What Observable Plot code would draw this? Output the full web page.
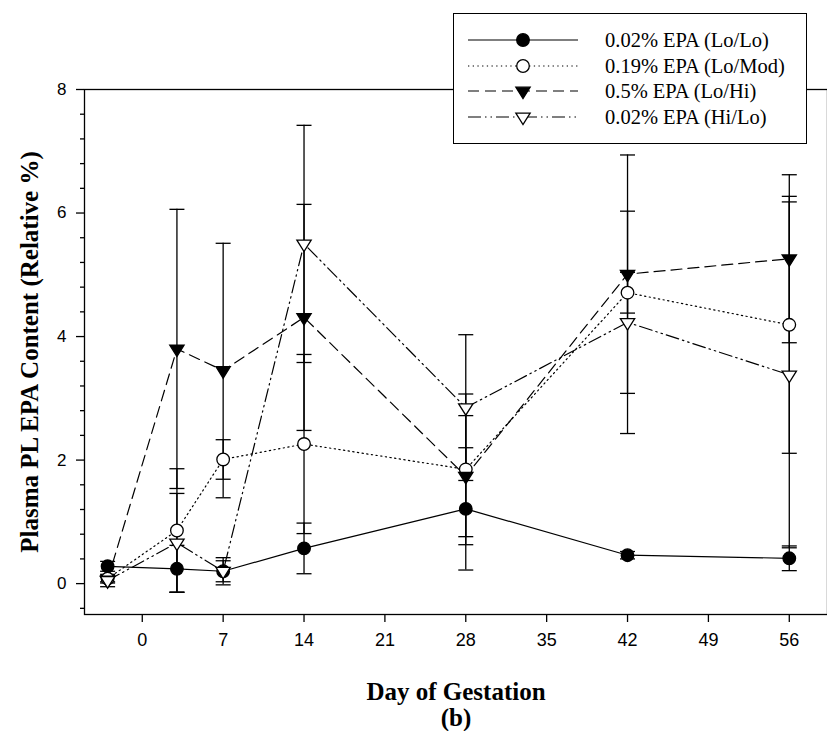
<!DOCTYPE html>
<html><head><meta charset="utf-8">
<script src="https://cdn.jsdelivr.net/npm/d3@7"></script>
<script src="https://cdn.jsdelivr.net/npm/@observablehq/plot@0.6"></script>
<style>
body{margin:0;background:#fff;}
#wrap{position:relative;width:827px;height:731px;overflow:hidden;background:#fff;}
#legend{position:absolute;left:453px;top:13px;width:354px;height:131px;border:1.3px solid #000;background:#fff;box-sizing:border-box;}
#legend .row{position:absolute;left:0;height:26px;width:100%;}
#legend svg{position:absolute;left:0;top:0;}
#legend span{position:absolute;left:151px;top:1px;font-family:"Liberation Serif","Times New Roman",serif;font-size:20.5px;line-height:24px;color:#000;white-space:nowrap;}
</style></head><body><div id="wrap"></div>
<script>
// ---- data ----
const days = [-3, 3, 7, 14, 28, 42, 56];
const seriesNames = ["0.02% EPA (Lo/Lo)", "0.19% EPA (Lo/Mod)", "0.5% EPA (Lo/Hi)", "0.02% EPA (Hi/Lo)"];
const loLo     = [0.28, 0.24, 0.20, 0.57, 1.21, 0.46, 0.41];
const loLoErr  = [0.08, 0.38, 0.17, 0.41, 0.99, 0.06, 0.20];
const loMod    = [0.08, 0.86, 2.01, 2.26, 1.85, 4.71, 4.19];
const loModErr = [0.05, 1.00, 0.32, 1.45, 1.22, 0.33, 2.08];
const loHi     = [0.06, 3.80, 3.45, 4.31, 1.74, 5.01, 5.26];
const loHiErr  = [0.05, 2.26, 2.06, 1.83, 0.98, 1.93, 1.36];
const hiLo     = [0.05, 0.66, 0.20, 5.50, 2.85, 4.23, 3.38];
const hiLoErr  = [0.10, 0.80, 0.22, 1.92, 1.18, 1.80, 2.80];
const xTicks = [0, 7, 14, 21, 28, 35, 42, 49, 56];
const yMajorTicks = [0, 2, 4, 6, 8];
const yMinorTicks = [-0.4, 0.4, 0.8, 1.2, 1.6, 2.4, 2.8, 3.2, 3.6, 4.4, 4.8, 5.2, 5.6, 6.4, 6.8, 7.2, 7.6];

const valueSets = [loLo, loMod, loHi, hiLo];
const errSets = [loLoErr, loModErr, loHiErr, hiLoErr];

// ---- styles per series ----
const dashes = [null, "1.3,3.4", "11,6", "13,4,1.5,4,1.5,4"];
const triDown = {draw(ctx, size) {
  const r = Math.sqrt(size / Math.PI);
  const a = r * 1.3, h = a * 1.6;
  ctx.moveTo(-a, -h / 3); ctx.lineTo(a, -h / 3); ctx.lineTo(0, 2 * h / 3); ctx.closePath();
}};
const capSym = {draw(ctx, size) {
  const r = Math.sqrt(size / Math.PI);
  ctx.moveTo(-r, 0); ctx.lineTo(r, 0);
}};
const markerSpec = [
  {symbol: "circle", fill: "#000", r: 6.3},
  {symbol: "circle", fill: "#fff", r: 6.3},
  {symbol: triDown, fill: "#000", r: 5.5},
  {symbol: triDown, fill: "#fff", r: 5.5}
];

const rows = [];
seriesNames.forEach((s, i) => days.forEach((d, j) => rows.push({series: s, idx: i, day: d, value: valueSets[i][j], err: errSets[i][j]})));

const serif = "Liberation Serif, Times New Roman, serif";
const marks = [];
seriesNames.forEach((s, i) => {
  marks.push(Plot.line(rows.filter(r => r.idx === i), {x: "day", y: "value", stroke: "#000", strokeWidth: 1.2, strokeDasharray: dashes[i] || undefined}));
});
marks.push(Plot.ruleX(rows, {x: "day", y1: d => d.value - d.err, y2: d => d.value + d.err, stroke: "#000", strokeWidth: 1.3}));
marks.push(Plot.dot(rows, {x: "day", y: d => d.value + d.err, symbol: capSym, r: 7.5, stroke: "#000", strokeWidth: 1.3, fill: "none"}));
marks.push(Plot.dot(rows, {x: "day", y: d => d.value - d.err, symbol: capSym, r: 7.5, stroke: "#000", strokeWidth: 1.3, fill: "none"}));
seriesNames.forEach((s, i) => {
  const m = markerSpec[i];
  marks.push(Plot.dot(rows.filter(r => r.idx === i), {x: "day", y: "value", symbol: m.symbol, r: m.r, fill: m.fill, stroke: "#000", strokeWidth: 1.3}));
});
marks.push(Plot.frame({stroke: "#000", strokeWidth: 1.3}));
marks.push(Plot.axisY({ticks: yMajorTicks, tickSize: 8, tickPadding: 10, fontSize: 17, fontFamily: "Liberation Sans, Arial, sans-serif", strokeWidth: 1.3, label: null}));
marks.push(Plot.axisY({ticks: yMinorTicks, tickSize: 4, tickFormat: () => "", strokeWidth: 1.3, label: null}));
marks.push(Plot.axisX({ticks: xTicks, tickSize: 8, tickPadding: 11, fontSize: 18, fontFamily: "Liberation Sans Narrow, Liberation Sans, Arial, sans-serif", strokeWidth: 1.3, label: null}));
marks.push(Plot.text(["Plasma PL EPA Content (Relative %)"], {frameAnchor: "left", textAnchor: "middle", lineAnchor: "middle", dx: -55, rotate: -90, fontSize: 25, fontWeight: "bold", fontFamily: serif, fill: "#000"}));
marks.push(Plot.text(["Day of Gestation"], {frameAnchor: "bottom", lineAnchor: "middle", dy: 77, fontSize: 25, fontWeight: "bold", fontFamily: serif, fill: "#000"}));
marks.push(Plot.text(["(b)"], {frameAnchor: "bottom", lineAnchor: "middle", dy: 103, fontSize: 25, fontWeight: "bold", fontFamily: serif, fill: "#000"}));

const chart = Plot.plot({
  width: 827, height: 731,
  marginLeft: 84, marginTop: 89, marginBottom: 117, marginRight: 0,
  x: {domain: [-5, 60], range: [84, 835]},
  y: {domain: [-0.5, 8], range: [614, 89]},
  style: {background: "#fff", color: "#000", fontFamily: "Liberation Sans, Arial, sans-serif"},
  marks
});
const wrap = document.getElementById("wrap");
wrap.appendChild(chart);

// ---- legend ----
const legend = document.createElement("div");
legend.id = "legend";
wrap.appendChild(legend);
const rowY = [26, 51.5, 77, 102.5];
seriesNames.forEach((s, i) => {
  const row = document.createElement("div");
  row.className = "row";
  row.style.top = (rowY[i] - 13) + "px";
  const svg = d3.create("svg").attr("width", 150).attr("height", 26);
  svg.append("line").attr("x1", 14).attr("x2", 124).attr("y1", 13).attr("y2", 13)
    .attr("stroke", "#000").attr("stroke-width", 1.2).attr("stroke-dasharray", dashes[i]);
  const m = markerSpec[i];
  const sym = typeof m.symbol === "string" ? d3.symbolCircle : m.symbol;
  svg.append("path").attr("transform", "translate(69,13)")
    .attr("d", d3.symbol(sym, Math.PI * m.r * m.r)())
    .attr("fill", m.fill).attr("stroke", "#000").attr("stroke-width", 1.3);
  row.appendChild(svg.node());
  const t = document.createElement("span");
  t.textContent = s;
  row.appendChild(t);
  legend.appendChild(row);
});
</script>
</body></html>
